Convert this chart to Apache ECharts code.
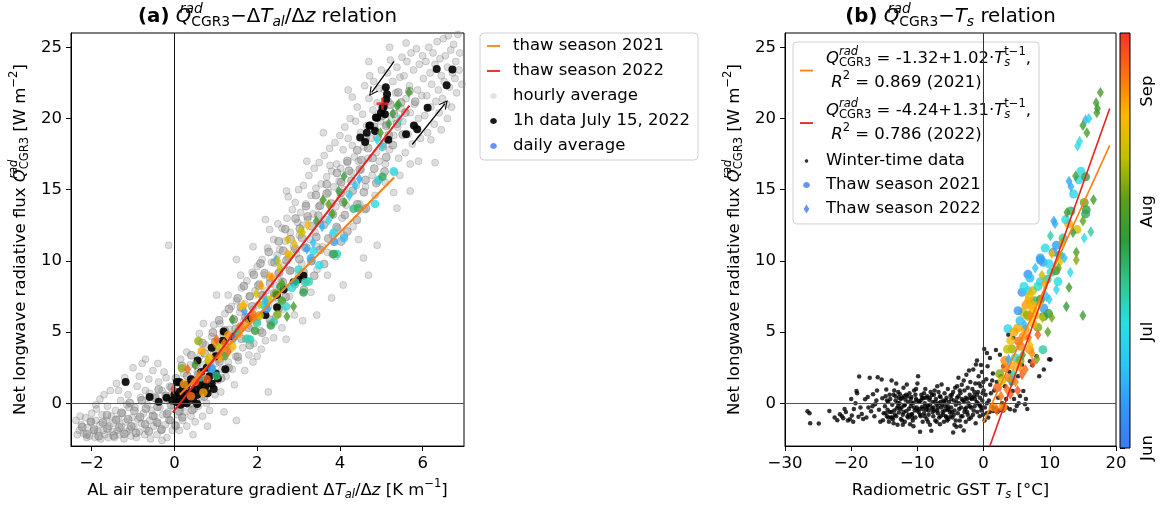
<!DOCTYPE html>
<html><head><meta charset="utf-8">
<script src="https://cdn.jsdelivr.net/npm/echarts@6/dist/echarts.min.js"></script>
<style>html,body{margin:0;padding:0;background:#fff}#c{width:1162px;height:508px}</style>
</head><body><div id="c"></div>
<script>
// ---------------- DATA ----------------
// Panel (a): hourly averages [dT/dz, Q] (outer / scattered)
const greyA = [
[-2.38,-1.2],[-2.3,-1.9],[-2.25,-1.5],[-2.2,-2.1],[-2.15,-1.0],[-2.1,-1.7],[-2.05,-2.3],[-2.02,-1.3],[-2.35,-2.2],[-2.28,-0.9],[-2.12,-2.4],[-2.0,-0.7],
[-1.95,-1.9],[-1.92,-2.4],[-1.9,-1.2],[-1.88,-0.4],[-1.85,-2.0],[-1.8,-1.5],[-1.78,-2.5],[-1.75,-0.8],[-1.72,-1.9],[-1.7,0.6],[-1.68,-2.2],[-1.65,-1.2],[-1.62,-0.2],[-1.6,-2.4],[-1.58,-1.6],[-1.55,0.9],[-1.52,-0.9],[-1.5,-2.0],[-1.8,0.3],[-1.9,-0.1],
[-1.48,-1.4],[-1.45,-2.4],[-1.42,-0.5],[-1.4,1.4],[-1.38,-1.9],[-1.35,-1.1],[-1.32,-2.2],[-1.3,0.2],[-1.28,-1.6],[-1.25,-0.7],[-1.22,-2.5],[-1.2,1.8],[-1.18,-1.3],[-1.15,-2.0],[-1.12,0.6],[-1.1,-0.3],[-1.08,-1.8],[-1.05,-2.3],[-1.02,-1.0],[-1.0,2.5],[-1.35,0.9],[-1.15,-0.1],
[-0.98,-1.6],[-0.95,-0.3],[-0.92,-2.4],[-0.9,1.2],[-0.88,-1.1],[-0.85,-2.0],[-0.82,0.4],[-0.8,-1.4],[-0.78,2.8],[-0.75,-0.7],[-0.72,-2.2],[-0.7,0.9],[-0.68,-1.8],[-0.65,-0.1],[-0.62,1.7],[-0.6,-1.2],[-0.58,-2.5],[-0.55,-0.5],[-0.52,2.3],[-0.5,-1.6],[-0.85,1.9],[-0.6,0.7],[-0.7,3.1],
[-0.48,-0.9],[-0.45,0.5],[-0.42,-2.2],[-0.4,-1.4],[-0.38,1.5],[-0.35,-0.3],[-0.32,-1.9],[-0.3,0.9],[-0.28,-0.8],[-0.25,2.2],[-0.22,-1.5],[-0.2,0.2],[-0.18,-2.4],[-0.15,-0.6],[-0.12,1.2],[-0.1,-1.2],[-0.08,0.6],[-0.05,-1.9],[-0.02,-0.2],[-0.4,2.8],[-0.2,1.8],[-0.3,-2.6],[-0.14,11.1],
[0.02,-1.5],[0.05,0.1],[0.08,-0.8],[0.1,1.4],[0.12,-1.9],[0.15,-0.3],[0.18,0.8],[0.2,-1.2],[0.22,2.1],[0.25,-0.6],[0.28,0.3],[0.3,-1.6],[0.32,1.1],[0.35,-0.1],[0.38,2.7],[0.4,-0.9],[0.42,0.6],[0.45,1.7],[0.48,-0.4],[0.5,-1.3],[0.15,3.1],[0.3,3.6],[0.45,-2.2],
[0.52,0.9],[0.55,2.2],[0.58,-0.2],[0.6,1.5],[0.62,3.3],[0.65,0.4],[0.68,-0.9],[0.7,2.7],[0.72,1.1],[0.75,4.1],[0.78,0.0],[0.8,1.9],[0.82,3.0],[0.85,-0.5],[0.88,2.4],[0.9,4.7],[0.92,1.3],[0.95,3.5],[0.98,0.6],[1.0,2.8],[0.6,4.9],[0.8,-1.6],[0.95,5.5],[0.7,5.6],
[1.02,4.2],[1.05,1.6],[1.08,3.1],[1.1,5.6],[1.12,0.8],[1.15,2.4],[1.18,4.8],[1.2,3.5],[1.22,6.3],[1.25,1.9],[1.28,4.0],[1.3,2.9],[1.32,5.2],[1.35,3.8],[1.38,6.8],[1.4,2.4],[1.42,4.5],[1.45,5.9],[1.48,3.3],[1.5,7.2],[1.2,-0.6],[1.45,1.3],[1.3,7.6],[1.5,-1.2],[1.02,7.6],[1.5,10.1],
[1.52,4.9],[1.55,3.0],[1.58,6.4],[1.6,5.2],[1.62,8.1],[1.65,3.9],[1.68,5.8],[1.7,7.0],[1.72,4.5],[1.75,8.6],[1.78,6.1],[1.8,3.4],[1.82,7.5],[1.85,5.4],[1.88,9.2],[1.9,6.6],[1.92,4.2],[1.95,7.9],[1.98,5.8],[2.0,9.6],[1.7,2.3],[1.9,2.9],[1.6,9.0],[2.0,3.3],[1.9,11.0],
[2.02,6.9],[2.05,8.4],[2.08,5.1],[2.1,7.6],[2.12,10.1],[2.15,6.2],[2.18,9.0],[2.2,4.4],[2.22,7.9],[2.25,10.9],[2.28,6.8],[2.3,8.8],[2.32,5.6],[2.35,9.9],[2.38,7.4],[2.4,11.5],[2.42,8.3],[2.45,6.1],[2.48,10.4],[2.5,9.1],[2.3,12.2],[2.1,3.8],[2.4,4.6],[2.5,12.6],[2.2,12.9],[2.27,0.8],
[2.52,7.3],[2.55,10.8],[2.58,8.6],[2.6,12.3],[2.62,6.6],[2.65,9.7],[2.68,11.4],[2.7,8.1],[2.72,13.0],[2.75,10.2],[2.78,7.5],[2.8,12.0],[2.82,9.3],[2.85,13.6],[2.88,11.0],[2.9,8.5],[2.92,14.1],[2.95,10.5],[2.98,12.7],[3.0,9.0],[2.6,5.3],[2.9,6.2],[2.75,14.5],[3.0,15.0],[2.7,4.5],[2.71,14.9],
[3.02,11.8],[3.05,13.4],[3.08,9.8],[3.1,12.5],[3.12,15.3],[3.15,10.9],[3.18,14.0],[3.2,8.6],[3.22,12.9],[3.25,16.0],[3.28,11.5],[3.3,14.6],[3.32,10.0],[3.35,13.3],[3.38,16.5],[3.4,12.0],[3.42,15.1],[3.45,9.4],[3.48,13.8],[3.5,16.9],[3.3,7.8],[3.1,5.8],[3.45,11.0],[3.2,17.0],[3.44,6.2],
[3.52,12.6],[3.55,15.4],[3.58,11.0],[3.6,14.2],[3.62,17.4],[3.65,12.9],[3.68,15.9],[3.7,10.6],[3.72,14.8],[3.75,17.9],[3.78,13.4],[3.8,16.3],[3.82,11.8],[3.85,15.2],[3.88,18.3],[3.9,13.8],[3.92,16.8],[3.95,12.3],[3.98,15.6],[4.0,18.8],[3.7,9.0],[3.9,10.3],[4.0,14.4],[3.6,19.0],[3.8,7.4],[3.76,16.7],
[4.02,16.5],[4.05,13.0],[4.08,17.8],[4.1,15.0],[4.12,19.4],[4.15,13.9],[4.18,16.9],[4.2,18.6],[4.22,14.7],[4.25,20.0],[4.28,16.2],[4.3,18.1],[4.32,12.4],[4.35,17.3],[4.38,19.8],[4.4,15.3],[4.42,20.8],[4.45,17.0],[4.48,14.0],[4.5,19.0],[4.3,21.5],[4.1,11.8],[4.45,11.5],[4.2,22.0],[4.08,8.3],
[4.52,16.4],[4.55,20.3],[4.58,18.0],[4.6,22.3],[4.62,15.2],[4.65,19.5],[4.68,17.2],[4.7,21.4],[4.72,23.0],[4.75,18.6],[4.78,16.0],[4.8,20.6],[4.82,22.6],[4.85,19.2],[4.88,17.6],[4.9,21.1],[4.92,15.6],[4.95,22.1],[4.98,19.8],[5.0,23.4],[4.6,13.6],[4.85,14.6],[4.95,17.0],[4.7,24.0],[4.57,10.2],[4.69,9.0],[4.9,11.1],
[5.02,20.6],[5.05,18.2],[5.08,22.0],[5.1,16.8],[5.12,19.6],[5.15,23.2],[5.18,21.2],[5.2,17.8],[5.22,24.1],[5.25,20.0],[5.28,22.6],[5.3,18.8],[5.32,16.2],[5.35,21.8],[5.38,23.6],[5.4,19.4],[5.42,17.2],[5.45,22.9],[5.48,20.7],[5.5,24.3],[5.3,14.8],[5.1,15.5],[5.45,16.0],[5.2,25.0],[5.38,13.7],
[5.52,19.8],[5.55,23.0],[5.58,17.6],[5.6,21.4],[5.62,24.0],[5.65,18.9],[5.68,22.3],[5.7,20.4],[5.72,24.6],[5.75,18.2],[5.78,23.4],[5.8,21.0],[5.82,19.4],[5.85,24.9],[5.88,22.0],[5.9,20.0],[5.92,23.8],[5.95,18.6],[5.98,21.6],[6.0,24.4],[5.7,16.8],[5.9,17.0],[5.6,25.3],[5.7,14.9],
[6.02,22.8],[6.05,20.2],[6.08,24.0],[6.1,21.6],[6.12,19.0],[6.15,25.0],[6.18,23.2],[6.2,20.8],[6.22,22.4],[6.25,24.6],[6.28,19.6],[6.3,23.8],[6.32,21.2],[6.35,25.4],[6.38,22.0],[6.4,20.4],[6.42,24.2],[6.45,23.0],[6.48,21.4],[6.5,25.6],[6.2,18.5],[6.45,19.2],[6.3,16.9],
[6.52,22.6],[6.55,24.4],[6.58,21.0],[6.6,23.6],[6.62,25.8],[6.65,22.2],[6.68,24.8],[6.7,20.8],[6.72,23.2],[6.75,25.2],[6.78,22.8],[6.8,24.0],[6.82,21.8],[6.85,25.9],[6.88,23.4],[6.9,24.6],[6.95,22.4],[6.6,20.0]
];
// Panel (a): hourly averages in the dense core of the band
const greyCoreA = [
[-2.12,-2.18],[-1.83,-2.31],[-1.47,-2.26],[-1.21,-2.14],[-0.93,-2.08],[-0.62,-1.96],[-0.31,-1.83],[0.03,-1.58],
[-2.23,-1.66],[-1.94,-1.84],[-1.62,-1.77],[-1.33,-1.69],[-1.04,-1.63],[-0.71,-1.47],[-0.42,-1.34],[-0.12,-1.17],[0.19,-0.98],
[-2.02,-1.28],[-1.73,-1.34],[-1.41,-1.16],[-1.12,-1.12],[-0.83,-0.96],[-0.52,-0.88],[-0.18,-0.74],[0.12,-0.57],[0.43,-0.46],
[-1.63,-0.83],[-1.28,-0.66],[-0.97,-0.52],[-0.69,-0.37],[-0.41,-0.24],[-0.08,-0.12],[0.23,0.04],[0.52,0.13],
[-1.08,0.03],[-0.79,0.21],[-0.47,0.38],[-0.21,0.53],[0.13,0.42],[0.38,0.63],[0.72,0.48],
[-0.38,0.97],[-0.07,1.12],[0.24,1.18],[0.49,1.34],[0.83,1.22],
[0.04,1.76],[0.31,1.93],[0.58,2.04],[0.92,2.08],[1.13,1.77],
[0.18,2.63],[0.52,2.71],[0.84,2.83],[1.09,2.94],[1.31,2.48],
[0.41,3.38],[0.73,3.52],[1.02,3.61],[1.28,3.74],[1.53,3.27],
[0.68,4.23],[0.98,4.31],[1.33,4.37],[1.62,4.54],[1.82,4.08],
[0.93,4.97],[1.22,5.12],[1.48,5.23],[1.79,5.31],[2.12,4.96],
[1.08,5.83],[1.43,5.88],[1.72,6.04],[2.03,6.12],[2.31,5.87],
[1.32,6.62],[1.61,6.74],[1.88,6.81],[2.21,6.93],[2.52,6.68],
[1.53,7.37],[1.82,7.52],[2.13,7.58],[2.41,7.73],[2.69,7.46],
[1.68,8.24],[2.03,8.28],[2.31,8.43],[2.62,8.52],[2.91,8.36],[3.13,7.97],
[1.92,9.03],[2.18,9.14],[2.53,9.17],[2.79,9.32],[3.12,9.21],[3.38,8.96],
[2.08,9.82],[2.42,9.88],[2.71,10.04],[3.02,10.12],[3.31,9.97],[3.62,9.78],
[2.28,10.63],[2.63,10.71],[2.92,10.84],[3.19,10.92],[3.52,10.78],[3.83,10.47],
[2.52,11.38],[2.81,11.53],[3.08,11.62],[3.43,11.68],[3.72,11.57],[4.03,11.36],
[2.68,12.23],[3.03,12.27],[3.32,12.43],[3.61,12.52],[3.92,12.38],[4.18,12.07],
[2.93,12.97],[3.22,13.12],[3.48,13.18],[3.83,13.27],[4.12,13.22],[4.41,12.88],
[3.18,13.84],[3.52,13.88],[3.79,14.03],[4.08,14.12],[4.42,13.97],[4.63,13.68],
[3.42,14.62],[3.68,14.73],[4.02,14.77],[4.31,14.93],[4.58,14.82],
[3.68,15.38],[4.03,15.52],[4.28,15.63],[4.62,15.68],[4.88,15.47],
[3.93,16.18],[4.22,16.33],[4.48,16.42],[4.83,16.48],[5.08,16.27],
[4.18,17.02],[4.52,17.08],[4.79,17.23],[5.12,17.28],
[4.42,17.77],[4.68,17.92],[5.03,18.02],[5.28,18.13],
[4.62,18.62],[4.91,18.68],[5.18,18.83],[5.52,18.87],
[4.83,19.42],[5.12,19.48],[5.38,19.63],
[5.02,20.18],[5.31,20.32],[5.58,20.41],
[5.22,20.97],[5.48,21.12],[5.82,21.18],
[5.41,21.83],[5.68,21.92]
];
// Panel (a): 1h data July 15, 2022
const blackA = [[-1.18,1.5],[-0.6,0.45],[-0.38,0.12],[-0.19,0.4],[0.06,1.5],[0.05,0.1],[0.1,0.3],[0.15,-0.1],[0.2,0.5],[0.25,0.2],[0.3,0.0],[0.35,0.4],[0.4,0.8],[0.45,0.3],[0.5,1.0],[0.55,0.6],[0.6,1.3],[0.65,0.9],[0.7,1.6],[0.75,1.2],[0.8,0.7],[0.85,1.9],[0.9,1.4],[0.95,1.0],[1.0,2.1],[0.2,1.0],[0.3,1.3],[0.1,0.8],[0.4,1.7],[0.55,-0.05],[0.0,0.6],[-0.05,0.2],[0.25,0.7],[0.12,1.5],[0.56,3.0],[0.78,2.5],[0.9,3.9],[1.05,1.75],[1.17,4.4],[1.19,5.05],[1.23,2.4],[1.43,4.7],[1.0,3.3],[0.65,2.2],[1.8,5.9],[2.2,6.2],[2.48,6.75],[2.48,7.6],[2.64,8.0],[2.88,8.5],[3.0,8.7],[3.12,8.95],[4.49,18.66],[4.61,18.35],[4.65,19.0],[4.71,19.48],[4.73,19.5],[4.85,19.12],[4.87,20.06],[4.9,20.05],[4.99,20.4],[5.03,20.76],[5.06,20.82],[5.09,20.3],[5.11,22.19],[5.14,21.7],[5.12,21.34],[5.17,18.5],[5.6,18.9],[5.79,19.5],[5.87,19.24],[6.12,20.76],[6.34,23.48],[6.72,23.44],[6.58,22.34]];
// Panel (a): daily averages [dT/dz, Q, day since Jun 1]
const circA = [[5.3,16.29,30],[4.94,15.7,28],[5.03,15.9,50],[4.85,14.0,30],[4.33,13.66,45],[4.44,13.7,48],[3.85,12.0,28],[3.86,11.34,12],[3.93,10.48,38],[3.85,10.48,50],[3.36,10.7,30],[3.3,10.18,15],[3.16,8.5,40],[3.25,8.55,38],[3.12,7.78,52],[2.92,8.5,38],[2.84,8.1,30],[2.56,8.18,55],[2.27,7.27,78],[2.23,6.62,12],[2.49,6.23,68],[2.4,5.72,40],[1.65,6.8,86],[2.33,5.46,52],[2.0,5.65,40],[2.06,6.18,78],[1.83,4.48,40],[1.76,4.55,38],[0.58,4.37,70],[0.66,3.67,88],[1.02,1.93,45],[0.18,2.46,70],[0.7,0.77,88],[0.78,1.7,100],[0.23,1.35,90],[0.62,1.81,40],[0.9,2.46,15],[1.4,4.0,85],[1.55,4.9,90],[1.9,6.0,95],[2.6,7.2,58],[3.5,9.7,32],[1.2,3.3,60],[0.4,0.5,96],[2.7,6.8,35],[4.1,11.6,20],[1.1,3.9,75],[1.3,4.8,92],[2.15,6.9,28],[1.6,5.4,96],[0.85,3.2,82],[2.45,7.7,65],[3.0,9.4,35],[1.95,5.1,55],[0.5,1.5,98]];
const diamA = [[5.67,21.84,58],[5.42,20.98,57],[5.38,20.9,56],[5.28,20.35,56],[5.44,19.93,32],[5.18,19.63,55],[4.98,19.0,58],[4.9,18.5,30],[5.02,18.03,28],[4.1,15.94,55],[4.47,15.75,15],[4.37,15.3,22],[3.97,14.9,52],[4.23,14.6,25],[3.59,14.3,60],[4.11,14.1,58],[3.73,13.94,66],[3.82,13.3,60],[3.73,12.85,28],[3.57,12.4,18],[3.22,12.5,85],[3.04,12.08,78],[3.1,12.0,76],[2.74,11.5,80],[3.43,12.8,55],[3.2,10.83,14],[2.8,10.4,78],[2.46,10.06,16],[2.3,8.9,88],[2.1,8.25,90],[1.98,7.7,79],[2.88,6.8,60],[2.72,6.1,58],[1.91,6.27,98],[1.69,6.46,12],[1.67,6.88,86],[1.4,5.88,57],[0.98,4.25,90],[1.02,4.48,100],[0.93,2.4,15],[0.32,2.4,100],[1.1,3.2,88],[-0.02,1.0,104],[2.36,8.85,92],[2.6,8.4,62],[2.5,10.0,78],[2.73,10.5,88],[1.3,3.6,96],[0.6,2.0,95],[1.5,5.0,40],[2.2,7.2,18],[1.2,4.2,92],[1.75,5.6,88],[2.05,7.0,80],[2.55,9.5,75],[2.9,11.2,82],[3.35,11.3,20],[0.8,3.0,78],[0.5,2.7,58],[1.45,4.6,15]];
const fitA2021 = [[0.13,0.6],[5.31,15.85]];
const fitA2022 = [[-0.04,-0.65],[5.68,20.9]];
const crossA = [[5.03,21.04]];
const arrowDownA = [[5.31,24.0],[4.77,21.83]];
const arrowUpA = [[5.75,18.17],[6.54,21.04]];
// Panel (b): winter-time data [Ts, Q]
const winterB = [
[-26.6,-0.55],[-26.3,-0.7],[-26.2,-1.4],[-24.9,-1.42],[-23.3,-0.54],[-22.1,-1.19],[-21.7,-0.77],[-21.4,-0.9],[-21.2,-1.05],[-20.8,-0.6],[-20.5,-1.2],[-20.2,-1.12],[-19.9,-0.85],[-19.6,-0.4],[-19.35,0.0],[-19.2,0.86],[-19.1,0.7],[-18.8,1.89],[-18.6,-0.3],[-18.4,-0.75],[-18.2,-1.1],[-17.9,0.28],[-17.7,-1.0],[-17.5,0.45],[-17.2,1.79],[-17.0,-0.55],[-16.8,-0.2],[-16.7,0.63],[-16.5,-0.9],[-16.4,-0.07],[-16.2,0.2],[-16.0,1.84],[-15.8,-0.45],[-15.6,-1.3],[-15.4,1.68],[-15.3,0.35],[-15.2,-1.19],[-15.1,-0.7],[-19.7,-1.3],[-18.9,-0.95],[-17.4,-0.3],[-16.1,0.9],[-21.0,-0.4],[-20.0,0.3],[-22.5,-1.0],
[-14.9,-0.2],[-14.8,0.5],[-14.7,0.98],[-14.6,-0.9],[-14.5,-0.45],[-14.4,0.1],[-14.3,-1.3],[-14.2,-0.6],[-14.1,0.3],[-14.0,-1.0],[-13.9,1.6],[-13.8,-0.1],[-13.7,-1.12],[-13.6,0.6],[-13.5,-0.5],[-13.4,-0.8],[-13.3,0.2],[-13.2,1.4],[-13.1,-0.35],[-13.0,-1.5],[-12.9,0.8],[-12.8,-0.65],[-12.7,0.0],[-12.65,0.63],[-12.5,-1.1],[-12.4,-0.3],[-12.3,0.4],[-12.2,-0.8],[-12.1,1.1],[-12.0,-0.15],[-11.9,-1.3],[-11.8,0.25],[-11.7,-0.55],[-11.6,1.33],[-11.5,-0.9],[-11.4,0.1],[-11.3,-0.4],[-11.2,0.7],[-11.1,-1.47],[-11.0,-0.2],[-10.9,0.45],[-10.8,-0.75],[-10.7,-1.2],[-10.6,0.05],[-10.5,0.9],[-10.4,-0.5],[-10.3,-1.0],[-10.2,0.3],[-10.1,-0.3],[-10.0,1.4],[-9.9,1.91],[-9.8,-0.6],[-9.7,0.15],[-9.6,-2.0],[-9.5,-0.9],[-9.4,0.6],[-9.3,-0.25],[-9.2,-1.3],[-9.1,0.35],[-9.0,-0.7],[-8.9,0.0],[-8.8,1.0],[-8.7,-0.45],[-8.6,-1.1],[-8.5,0.5],[-8.4,-0.15],[-8.3,-0.8],[-8.2,0.25],[-8.1,-1.5],[-8.0,0.8],[-7.9,-1.93],[-7.8,-0.35],[-7.7,0.1],[-7.6,-0.9],[-7.5,0.6],[-7.4,-0.5],[-7.3,-1.2],[-7.2,0.3],[-7.1,-0.1],[-7.0,1.2],[-6.9,-0.7],[-6.8,0.0],[-6.7,-1.0],[-6.6,-1.47],[-6.5,0.45],[-6.4,-0.3],[-6.35,1.33],[-6.2,-0.6],[-6.1,0.2],[-6.0,-1.3],[-5.9,0.7],[-5.8,-0.2],[-5.7,-0.9],[-5.6,0.4],[-5.5,-0.45],[-5.4,1.0],[-5.3,-1.1],[-5.2,0.1],[-5.1,-0.6],[-5.0,0.55],
[-14.6,0.2],[-13.9,-0.6],[-13.2,-0.9],[-12.6,-0.4],[-12.0,0.5],[-11.4,-1.0],[-10.9,-0.8],[-10.3,0.6],[-9.8,0.1],[-9.2,-0.4],[-8.7,0.4],[-8.1,-0.1],[-7.6,-0.3],[-7.0,-0.5],[-6.5,-0.9],[-5.9,-0.5],[-5.4,-0.2],[-12.3,-1.2],[-11.0,0.3],[-9.5,0.2],[-8.4,-1.3],[-6.8,0.8],[-5.6,-1.0],[-10.6,-1.6],[-13.6,-1.4],
[-4.9,-0.3],[-4.8,0.6],[-4.7,-1.0],[-4.6,-2.05],[-4.5,0.2],[-4.4,-0.5],[-4.3,1.1],[-4.2,-0.1],[-4.1,-1.65],[-4.0,0.4],[-3.9,-0.7],[-3.8,1.8],[-3.7,0.0],[-3.6,-1.2],[-3.5,0.7],[-3.4,-0.3],[-3.3,1.3],[-3.2,-0.9],[-3.1,0.2],[-3.0,-1.9],[-2.9,0.9],[-2.8,-0.4],[-2.7,0.4],[-2.6,2.0],[-2.5,-0.6],[-2.4,1.1],[-2.3,0.0],[-2.2,-1.1],[-2.1,0.6],[-2.0,1.5],[-1.9,-0.3],[-1.8,0.3],[-1.7,1.0],[-1.6,-0.8],[-1.56,2.38],[-1.45,0.5],[-1.35,-0.2],[-1.25,1.4],[-1.16,2.73],[-1.05,0.1],[-0.95,-0.6],[-0.85,0.8],[-0.75,1.9],[-0.65,-0.1],[-0.55,0.4],[-0.45,1.2],[-0.35,-0.5],[-0.25,2.2],[-0.15,0.7],[-0.05,1.5],[-4.4,-1.5],[-3.5,-1.6],[-2.7,-1.3],[-1.9,-1.0],[-1.2,-1.4],[-0.6,-0.9],[-4.0,1.2],[-3.0,1.6],[-2.2,2.3],[-1.0,3.0],[-0.4,2.7],
[-14.8,-0.7],[-14.2,0.6],[-13.8,-1.0],[-13.3,0.5],[-12.9,-0.2],[-12.5,0.3],[-12.1,-0.6],[-11.7,0.6],[-11.3,-0.8],[-10.9,0.0],[-10.5,-0.3],[-10.1,0.2],[-9.7,-0.4],[-9.3,0.4],[-8.9,-0.9],[-8.5,-0.3],[-8.1,0.4],[-7.7,-0.6],[-7.3,0.1],[-6.9,-0.3],[-6.5,0.1],[-6.1,-0.8],[-5.7,0.2],[-5.3,-0.4],[-4.9,0.3],[-4.5,-0.8],[-4.1,0.1],[-3.7,-0.4],[-3.3,0.3],[-2.9,-0.6],[-2.5,0.3],[-2.1,-0.2],[-1.7,0.4],[-1.3,0.3],[-0.9,0.0],[-0.5,-0.2],[-0.2,0.2],
[-14.4,-1.0],[-13.5,0.9],[-12.8,0.4],[-12.2,-1.5],[-11.5,0.5],[-10.8,-1.0],[-10.2,1.0],[-9.6,-0.8],[-9.0,0.7],[-8.3,-0.5],[-7.8,0.6],[-7.1,-1.3],[-6.6,0.5],[-6.0,0.1],[-5.5,-1.2],[-5.0,-0.9],[-4.6,0.8],[-4.2,-1.2],[-3.8,0.5],[-3.4,-0.9],[-2.9,0.1],[-2.4,-0.8],[-2.0,0.4],[-1.5,-0.5],[-1.0,0.6],[-0.3,-0.3],
[-13.0,0.05],[-11.9,-0.1],[-10.0,-0.5],[-8.8,-0.2],[-7.4,0.9],[-6.3,-0.1],[-4.8,-0.6],[-3.6,0.9],[-2.6,-0.3],[-1.4,0.8],[-0.7,1.4],[-0.1,-0.8],
[0.1,3.82],[0.5,3.54],[0.96,3.19],[1.86,3.75],[2.47,3.42],[2.97,2.6],[3.73,4.82],[4.5,4.59],[4.4,0.86],[6.0,0.86],[7.0,2.96],[7.36,2.68],[8.4,1.91],[9.1,2.38],[10.1,3.07],[6.25,-0.07],[5.5,0.51],[5.0,-0.19],[4.0,-0.42],[2.47,-0.49],[1.46,-0.54],[0.7,-1.0],[0.2,-0.3],[0.3,0.6],[0.4,1.7],[0.6,2.6],[0.8,0.2],[1.0,1.3],[1.2,-0.2],[1.4,2.1],[1.6,0.9],[1.8,-0.4],[2.0,1.5],[2.2,0.4],[2.6,1.9],[2.8,0.0],[3.2,1.2],[3.5,-0.3],[3.9,2.2],[4.2,1.4],[4.7,-0.5],[5.2,1.9],[5.8,2.7],[6.4,0.3],[6.6,-0.4],[8.0,3.3],[9.9,3.1],[0.15,-1.2],[0.45,-0.7],[1.1,0.7],
[0.9,-0.6],[1.5,-0.3],[2.1,-0.6],[3.0,-0.5],[3.4,0.3],[4.6,0.3],[5.3,0.0],[0.5,0.0],[0.0,0.9],[1.3,1.6]
];
// Panel (b): thaw seasons [Ts, Q, day since Jun 1]
const circB = [[8.57,10.06,12],[9.0,9.9,14],[6.7,9.06,10],[8.57,8.55,28],[11.24,8.55,30],[5.8,7.8,12],[6.7,7.9,25],[7.16,7.15,88],[7.46,6.57,86],[6.8,6.1,80],[3.68,5.24,28],[5.14,5.29,88],[8.17,5.33,68],[4.28,3.82,70],[6.96,3.77,90],[8.97,3.77,40],[5.3,4.36,98],[2.42,2.07,68],[4.28,1.6,40],[2.1,1.1,100],[1.5,-0.26,92],[2.92,-0.26,90],[9.07,6.69,12],[9.07,6.1,55],[9.8,6.3,52],[14.7,16.3,30],[14.4,15.7,28],[13.6,14.7,28],[15.4,15.9,52],[15.2,14.1,66],[15.5,13.6,52],[15.4,13.3,50],[14.1,12.2,78],[12.85,12.6,88],[8.57,10.2,14],[10.5,10.6,10],[11.0,11.1,12],[12.0,11.6,40],[11.5,10.4,45],[10.2,9.2,35],[7.4,7.9,78],[6.4,6.9,90],[7.8,6.2,82],[5.5,5.8,20],[4.8,3.2,35],[3.6,3.8,75],[6.0,4.7,92],[7.5,5.6,85],[9.6,8.7,42],[10.9,9.3,55],[12.4,12.9,30],[13.2,13.5,48],[3.3,2.5,95],[2.8,1.6,78],[4.6,5.0,88],[5.9,6.4,80],[6.3,5.2,90],[7.7,7.2,45],[8.2,8.2,35],[5.2,6.5,12],[6.1,8.2,30],[7.0,8.8,20],[4.1,4.4,85],[3.2,3.0,92],[5.6,4.0,94],[6.6,6.2,70],[8.6,7.3,60],[9.9,9.8,28],[7.3,6.9,86],[6.9,7.5,84],[5.5,3.0,68],[4.6,2.6,88],[3.9,1.8,95],[9.3,10.9,30]];
const diamB = [[17.64,21.83,60],[17.0,21.1,58],[17.2,20.7,57],[17.1,20.4,59],[15.4,19.9,18],[15.9,20.0,26],[15.0,19.5,57],[15.6,19.0,60],[14.2,18.06,30],[14.5,18.4,30],[13.9,15.96,56],[12.9,15.6,15],[13.2,15.2,16],[16.6,14.3,58],[12.6,13.4,58],[15.2,11.6,30],[16.2,12.05,40],[10.6,12.8,15],[10.8,12.6,16],[10.1,11.77,40],[14.0,10.6,60],[14.0,10.06,68],[13.1,9.2,30],[12.9,8.13,58],[12.5,6.8,55],[15.0,6.17,58],[10.3,6.03,66],[7.06,6.15,92],[8.2,4.82,100],[8.06,3.12,67],[3.78,3.07,15],[7.46,2.84,100],[6.3,2.38,98],[5.54,2.5,92],[5.14,0.9,102],[4.03,0.63,100],[10.3,10.5,85],[11.6,9.95,82],[11.0,8.0,28],[9.5,7.5,20],[8.8,9.0,75],[6.2,5.5,18],[7.0,4.1,85],[5.9,3.4,60],[3.0,-0.3,95],[2.0,-0.5,98],[4.5,2.0,40],[9.2,8.4,88],[12.2,10.2,20],[15.0,12.8,65],[11.8,11.3,72],[7.8,9.5,22],[8.5,7.0,80],[6.8,4.6,96],[5.8,2.0,100],[4.8,1.5,95],[7.3,3.5,92],[9.7,5.0,62],[8.9,6.0,75],[6.6,7.2,87],[9.9,7.3,25],[11.3,9.5,65],[13.5,12.0,55],[3.5,1.0,97],[2.6,0.5,96]];
const fitB2021 = [[0,-1.32],[19.05,18.11]];
const fitB2022 = [[0.95,-3.0],[19.05,20.7]];
// Axis ticks
const xTicksA = [-2,0,2,4,6];
const yTicks = [0,5,10,15,20,25];
const xTicksB = [-30,-20,-10,0,10,20];
const monthTicks = [0,30,61,92];
const monthLabels = ['Jun','Jul','Aug','Sep'];
const cbarRange = [0,107];
const cbarColors = ['#3c78f0','#3496f8','#2ec4f4','#28e0e0','#32c48c','#2e9a3c','#5c9e18','#c0c000','#fcb800','#ff7010','#f0342a'];

// ---------------- CHART ----------------
const F = "'DejaVu Sans', sans-serif";
function rich(fs) {
  const s = fs * 0.7, L = fs * 1.45;
  const up = 0.4 * fs, down = 0.25 * fs;
  const b = {fontFamily: F, color: '#000', fontWeight: 'normal'};
  const mk = o => Object.assign({}, b, o);
  return {
    n: mk({fontSize: fs, lineHeight: L}),
    i: mk({fontSize: fs, lineHeight: L, fontStyle: 'italic'}),
    b: mk({fontSize: fs, lineHeight: L, fontWeight: 'bold'}),
    sup: mk({fontSize: s, lineHeight: L - 2 * up, height: L - 2 * up, verticalAlign: 'top'}),
    supiz: mk({fontSize: s, lineHeight: L - 2 * up, height: L - 2 * up, verticalAlign: 'top', fontStyle: 'italic', width: 0}),
    sub: mk({fontSize: s, lineHeight: L - 2 * down, height: L - 2 * down, verticalAlign: 'bottom'}),
    subi: mk({fontSize: s, lineHeight: L - 2 * down, height: L - 2 * down, verticalAlign: 'bottom', fontStyle: 'italic'}),
    subiz: mk({fontSize: s, lineHeight: L - 2 * down, height: L - 2 * down, verticalAlign: 'bottom', fontStyle: 'italic', width: 0})
  };
}
const FS = 16.5;
const R = rich(FS);
const RT = rich(19.8);
const minus = v => v < 0 ? '\u2212' + (-v) : String(v);
const Q = '{i|Q}{supiz|rad}{sub|CGR3}';
const yName = '{n|Net longwave radiative flux }' + Q + '{n| [W m}{sup|\u22122}{n|]}';

function axisBase(extra) {
  return Object.assign({
    type: 'value',
    axisLine: {show: true, onZero: false, lineStyle: {color: '#000', width: 1}},
    splitLine: {show: false},
    nameLocation: 'middle',
    nameTextStyle: {rich: R, fontSize: FS, fontFamily: F, color: '#000'}
  }, extra);
}
function ticks(vals) {
  return {show: true, length: 5, lineStyle: {color: '#000'}, customValues: vals};
}
function labels(vals) {
  return {color: '#000', fontSize: FS, fontFamily: F, margin: 9, formatter: minus, customValues: vals};
}

const lineIcon = 'path://M0,0M13,9M0,3.6L13,3.6L13,5.4L0,5.4Z';
const dotIcon = 'path://M0,0M13,9M6.5,1.5L8.3,2.1L9.5,3.3L9.9,4.5L9.5,5.7L8.3,6.9L6.5,7.5L4.7,6.9L3.5,5.7L3.1,4.5L3.5,3.3L4.7,2.1Z';
const smallDotIcon = 'path://M0,0M13,9M6.5,2.6L7.8,3.2L8.4,4.5L7.8,5.8L6.5,6.4L5.2,5.8L4.6,4.5L5.2,3.2Z';
const diaIcon = 'path://M0,0M13,9M6.5,0L9.3,4.5L6.5,9L3.7,4.5Z';

const legendText = {
  'fitB21': Q + '{n| = -1.32+1.02·}{i|T}{subiz|s}{sup|t\u22121}{n|,}\n{n| }{i|R}{sup|2}{n| = 0.869 (2021)}',
  'fitB22': Q + '{n| = -4.24+1.31·}{i|T}{subiz|s}{sup|t\u22121}{n|,}\n{n| }{i|R}{sup|2}{n| = 0.786 (2022)}'
};

const greyStyle = {color: 'rgba(128,128,128,0.32)', borderColor: 'rgba(128,128,128,0.38)', borderWidth: 1};

const chart = echarts.init(document.getElementById('c'), null, {renderer: 'canvas'});
const option = {
  animation: false,
  backgroundColor: '#fff',
  title: [
    {text: '{b|(a)}{n| }' + Q + '{n|\u2212Δ}{i|T}{subi|al}{n|/Δ}{i|z}{n| relation}', left: 267.5, top: 3, textAlign: 'center', padding: 0,
     textStyle: {rich: RT, fontSize: 19.8, fontFamily: F, color: '#000', fontWeight: 'normal'}},
    {text: '{b|(b)}{n| }' + Q + '{n|\u2212}{i|T}{subi|s}{n| relation}', left: 950.5, top: 3, textAlign: 'center', padding: 0,
     textStyle: {rich: RT, fontSize: 19.8, fontFamily: F, color: '#000', fontWeight: 'normal'}}
  ],
  grid: [
    {left: 71, top: 33, width: 393, height: 415, show: true, borderColor: '#000', borderWidth: 1, backgroundColor: 'transparent'},
    {left: 785, top: 33, width: 331, height: 415, show: true, borderColor: '#000', borderWidth: 1, backgroundColor: 'transparent'},
    {left: 1120, top: 33, width: 10, height: 415, show: false}
  ],
  xAxis: [
    axisBase({gridIndex: 0, min: -2.5, max: 7, name: '{n|AL air temperature gradient Δ}{i|T}{subi|al}{n|/Δ}{i|z}{n| [K m}{sup|\u22121}{n|]}', nameGap: 33,
      axisTick: ticks(xTicksA), axisLabel: labels(xTicksA)}),
    axisBase({gridIndex: 1, min: -30, max: 20, name: '{n|Radiometric GST }{i|T}{subi|s}{n| [°C]}', nameGap: 33,
      axisTick: ticks(xTicksB), axisLabel: labels(xTicksB)}),
    {type: 'value', gridIndex: 2, min: 0, max: 1, show: false}
  ],
  yAxis: [
    axisBase({gridIndex: 0, min: -3, max: 26, name: yName, nameGap: 38, axisTick: ticks(yTicks), axisLabel: labels(yTicks)}),
    axisBase({gridIndex: 1, min: -3, max: 26, name: yName, nameGap: 38, axisTick: ticks(yTicks), axisLabel: labels(yTicks)}),
    {type: 'value', gridIndex: 2, min: cbarRange[0], max: cbarRange[1], position: 'right',
      axisLine: {show: false}, splitLine: {show: false},
      axisTick: ticks(monthTicks),
      axisLabel: {show: true, rotate: 90, margin: 9, color: '#000', fontSize: FS, fontFamily: F, customValues: monthTicks,
        formatter: v => monthLabels[monthTicks.indexOf(v)] || ''}}
  ],
  visualMap: {
    type: 'continuous', show: false, min: cbarRange[0], max: cbarRange[1], dimension: 2,
    seriesIndex: [2, 3, 9, 10], inRange: {color: cbarColors}
  },
  legend: [
    {left: 480, top: 33, orient: 'vertical', itemWidth: 13, itemHeight: 9, itemGap: 5, padding: [3, 8, 4, 7],
     backgroundColor: '#fff', borderColor: '#d0d0d0', borderWidth: 1, borderRadius: 4, selectedMode: false,
     textStyle: {fontFamily: F, fontSize: FS, lineHeight: 20, color: '#000', padding: [0, 0, 0, 8]},
     data: [
       {name: 'thaw season 2021', icon: lineIcon},
       {name: 'thaw season 2022', icon: lineIcon},
       {name: 'hourly average', icon: dotIcon, itemStyle: {color: 'rgba(150,150,150,0.35)', borderWidth: 0}},
       {name: '1h data July 15, 2022', icon: dotIcon},
       {name: 'daily average', icon: dotIcon, itemStyle: {color: '#3c78f0', borderWidth: 0}}
     ]},
    {left: 793, top: 42, orient: 'vertical', itemWidth: 13, itemHeight: 9, itemGap: 4, padding: [4, 8, 5, 7],
     backgroundColor: 'rgba(255,255,255,0.8)', borderColor: '#d0d0d0', borderWidth: 1, borderRadius: 4, selectedMode: false,
     textStyle: {fontFamily: F, fontSize: FS, lineHeight: 20, color: '#000', padding: [0, 0, 0, 8], rich: R},
     formatter: name => legendText[name] || name,
     data: [
       {name: 'fitB21', icon: lineIcon},
       {name: 'fitB22', icon: lineIcon},
       {name: 'Winter-time data', icon: smallDotIcon},
       {name: 'Thaw season 2021', icon: dotIcon, itemStyle: {color: '#3c78f0', borderWidth: 0}},
       {name: 'Thaw season 2022', icon: diaIcon, itemStyle: {color: '#3c78f0', borderWidth: 0}}
     ]}
  ],
  series: [
    // 0
    {name: 'hourly average', type: 'scatter', xAxisIndex: 0, yAxisIndex: 0, data: greyA, symbolSize: 7, z: 2, itemStyle: greyStyle},
    // 1
    {name: '1h data July 15, 2022', type: 'scatter', xAxisIndex: 0, yAxisIndex: 0, data: blackA, symbolSize: 8, z: 3,
     itemStyle: {color: '#000', opacity: 0.9}},
    // 2
    {name: 'daily average', type: 'scatter', xAxisIndex: 0, yAxisIndex: 0, data: circA, symbolSize: 8.5, z: 4,
     itemStyle: {color: '#3c78f0'}},
    // 3
    {name: 'daily average 2022', type: 'scatter', xAxisIndex: 0, yAxisIndex: 0, data: diamA, symbol: 'diamond', symbolSize: [7, 11], z: 4,
     itemStyle: {color: '#3c78f0'}},
    // 4
    {name: 'thaw season 2021', type: 'line', xAxisIndex: 0, yAxisIndex: 0, data: fitA2021, symbol: 'none', z: 5,
     color: '#ff7f0e', lineStyle: {color: '#ff7f0e', width: 2}},
    // 5
    {name: 'thaw season 2022', type: 'line', xAxisIndex: 0, yAxisIndex: 0, data: fitA2022, symbol: 'none', z: 5,
     color: '#e8231e', lineStyle: {color: '#e8231e', width: 2}},
    // 6
    {name: 'cross', type: 'scatter', xAxisIndex: 0, yAxisIndex: 0, data: crossA, z: 6,
     symbol: 'path://M4.6,0L7.4,0L7.4,4.6L12,4.6L12,7.4L7.4,7.4L7.4,12L4.6,12L4.6,7.4L0,7.4L0,4.6L4.6,4.6Z', symbolSize: 12,
     itemStyle: {color: '#e8231e'}},
    // 7 reference lines (a)
    {name: 'refA', type: 'scatter', xAxisIndex: 0, yAxisIndex: 0, data: [], z: 1, silent: true,
     markLine: {silent: true, symbol: 'none', label: {show: false}, animation: false,
       data: [
         {xAxis: 0, lineStyle: {color: '#111', width: 1, type: 'solid'}},
         {yAxis: 0, lineStyle: {color: '#555', width: 1, type: 'solid'}}
       ]}},
    // 8
    {name: 'Winter-time data', type: 'scatter', xAxisIndex: 1, yAxisIndex: 1, data: winterB, symbolSize: 4.5, z: 2,
     itemStyle: {color: '#000'}},
    // 9
    {name: 'Thaw season 2021', type: 'scatter', xAxisIndex: 1, yAxisIndex: 1, data: circB, symbolSize: 9, z: 3,
     itemStyle: {color: '#3c78f0'}},
    // 10
    {name: 'Thaw season 2022', type: 'scatter', xAxisIndex: 1, yAxisIndex: 1, data: diamB, symbol: 'diamond', symbolSize: [7, 11], z: 3,
     itemStyle: {color: '#3c78f0'}},
    // 11
    {name: 'fitB21', type: 'line', xAxisIndex: 1, yAxisIndex: 1, data: fitB2021, symbol: 'none', z: 5,
     color: '#ff7f0e', lineStyle: {color: '#ff7f0e', width: 1.6}},
    // 12
    {name: 'fitB22', type: 'line', xAxisIndex: 1, yAxisIndex: 1, data: fitB2022, symbol: 'none', z: 5,
     color: '#e8231e', lineStyle: {color: '#e8231e', width: 1.6}},
    // 13
    {name: 'refB', type: 'scatter', xAxisIndex: 1, yAxisIndex: 1, data: [], z: 1, silent: true,
     markLine: {silent: true, symbol: 'none', label: {show: false}, animation: false,
       data: [
         {xAxis: 0, lineStyle: {color: '#333', width: 1, type: 'solid'}},
         {yAxis: 0, lineStyle: {color: '#555', width: 1, type: 'solid'}}
       ]}},
    // 14 colorbar
    {name: 'colorbar', type: 'custom', xAxisIndex: 2, yAxisIndex: 2, data: [cbarRange], silent: true, z: 2,
     renderItem: function (params, api) {
       const p0 = api.coord([0, api.value(0)]);
       const p1 = api.coord([1, api.value(1)]);
       const stops = cbarColors.map((c, i) => ({offset: i / (cbarColors.length - 1), color: c}));
       return {type: 'rect', shape: {x: p0[0], y: p1[1], width: p1[0] - p0[0], height: p0[1] - p1[1]},
         style: {fill: new echarts.graphic.LinearGradient(0, 1, 0, 0, stops), stroke: '#000', lineWidth: 1}};
     }},
    // 15 arrows
    {name: 'arrows', type: 'scatter', xAxisIndex: 0, yAxisIndex: 0, data: [], z: 6, silent: true,
     markLine: {silent: true, symbol: ['none', 'path://M0,10L5,0L10,10L8.8,10L5,2.6L1.2,10Z'], symbolSize: [9, 9],
       label: {show: false}, animation: false, lineStyle: {color: '#000', width: 1.3, type: 'solid'},
       data: [
         [{coord: arrowDownA[0]}, {coord: arrowDownA[1]}],
         [{coord: arrowUpA[0]}, {coord: arrowUpA[1]}]
       ]}},
    // 16 dense core of hourly averages (same legend entry)
    {name: 'hourly average', type: 'scatter', xAxisIndex: 0, yAxisIndex: 0, data: greyCoreA, symbolSize: 8, z: 2,
     itemStyle: {color: 'rgba(128,128,128,0.55)', borderColor: 'rgba(128,128,128,0.6)', borderWidth: 1}}
  ]
};
chart.setOption(option);
</script></body></html>
